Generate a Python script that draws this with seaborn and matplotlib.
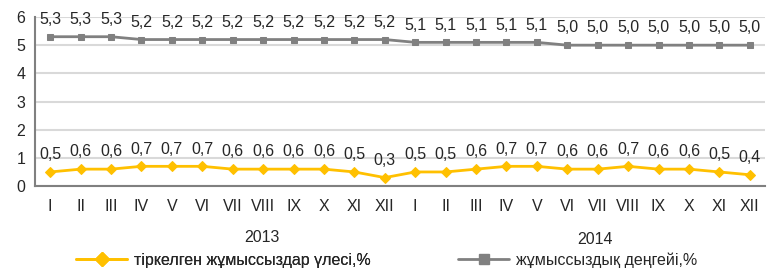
import matplotlib
matplotlib.use("Agg")
import matplotlib.pyplot as plt
import seaborn as sns
import numpy as np
import pandas as pd
from matplotlib.lines import Line2D

months = ["I", "II", "III", "IV", "V", "VI", "VII", "VIII", "IX", "X", "XI", "XII"] * 2
years = ["2013", "2014"]
share_registered = [0.5, 0.6, 0.6, 0.7, 0.7, 0.7, 0.6, 0.6, 0.6, 0.6, 0.5, 0.3,
                    0.5, 0.5, 0.6, 0.7, 0.7, 0.6, 0.6, 0.7, 0.6, 0.6, 0.5, 0.4]
unemployment_rate = [5.3, 5.3, 5.3, 5.2, 5.2, 5.2, 5.2, 5.2, 5.2, 5.2, 5.2, 5.2,
                     5.1, 5.1, 5.1, 5.1, 5.1, 5.0, 5.0, 5.0, 5.0, 5.0, 5.0, 5.0]
label_share = "тіркелген жұмыссыздар үлесі,%"
label_rate = "жұмыссыздық деңгейі,%"

sns.set_style("white")
plt.rcParams['font.family'] = ['Liberation Sans', 'DejaVu Sans']

yellow = "#FFC000"
grey = "#808080"
fs = 11.5

df = pd.DataFrame({"idx": np.arange(len(months)),
                   "share": share_registered,
                   "rate": unemployment_rate})

fig = plt.figure(figsize=(7.7, 2.72), dpi=100)
ax = fig.add_axes([0.0455, 0.316, 0.948, 0.6215])

sns.lineplot(data=df, x="idx", y="share", ax=ax, color=yellow, lw=2,
             marker="D", markersize=5, markeredgecolor=yellow)
sns.lineplot(data=df, x="idx", y="rate", ax=ax, color=grey, lw=2,
             marker="s", markersize=5, markeredgecolor=grey)

for i, (a, b) in enumerate(zip(share_registered, unemployment_rate)):
    ax.annotate(f"{a:.1f}".replace(".", ","), (i, a), xytext=(0, 7),
                textcoords="offset points", ha="center", va="bottom", fontsize=fs)
    ax.annotate(f"{b:.1f}".replace(".", ","), (i, b), xytext=(0, 7),
                textcoords="offset points", ha="center", va="bottom", fontsize=fs)

ax.set_xlim(-0.5, len(months) - 0.5)
ax.set_ylim(0, 6)
ax.set_yticks(range(0, 7))
ax.set_xticks(np.arange(len(months)))
ax.set_xticklabels(months)
ax.set_xticks(np.arange(len(months) + 1) - 0.5, minor=True)
ax.tick_params(axis="x", which="major", length=0, labelsize=fs, pad=9)
ax.tick_params(axis="x", which="minor", length=5, width=1.5, color=grey, direction="out")
ax.tick_params(axis="y", length=4, width=1.5, color=grey, labelsize=fs, pad=3, direction="out")
ax.set_xlabel("")
ax.set_ylabel("")
ax.grid(axis="y", color="#D9D9D9", lw=1.5)
for s in ["top", "right"]:
    ax.spines[s].set_visible(False)
for s in ["left", "bottom"]:
    ax.spines[s].set_color(grey)
    ax.spines[s].set_linewidth(1.5)

fig.text(262 / 770, 1 - 238 / 272, years[0], ha="center", va="center", fontsize=fs)
fig.text(595 / 770, 1 - 240 / 272, years[1], ha="center", va="center", fontsize=fs)

h1 = Line2D([], [], color=yellow, lw=2, marker="D", markersize=7, markeredgecolor=yellow)
h2 = Line2D([], [], color=grey, lw=2, marker="s", markersize=7, markeredgecolor=grey)
leg1 = fig.legend([h1], [label_share], loc="center left", bbox_to_anchor=(62 / 770, 1 - 260 / 272),
                  frameon=False, fontsize=fs, handlelength=3.2, handletextpad=0.4)
fig.add_artist(leg1)
fig.legend([h2], [label_rate], loc="center left", bbox_to_anchor=(444 / 770, 1 - 260 / 272),
           frameon=False, fontsize=fs, handlelength=3.2, handletextpad=0.4)

fig.savefig("out.png", dpi=100)
